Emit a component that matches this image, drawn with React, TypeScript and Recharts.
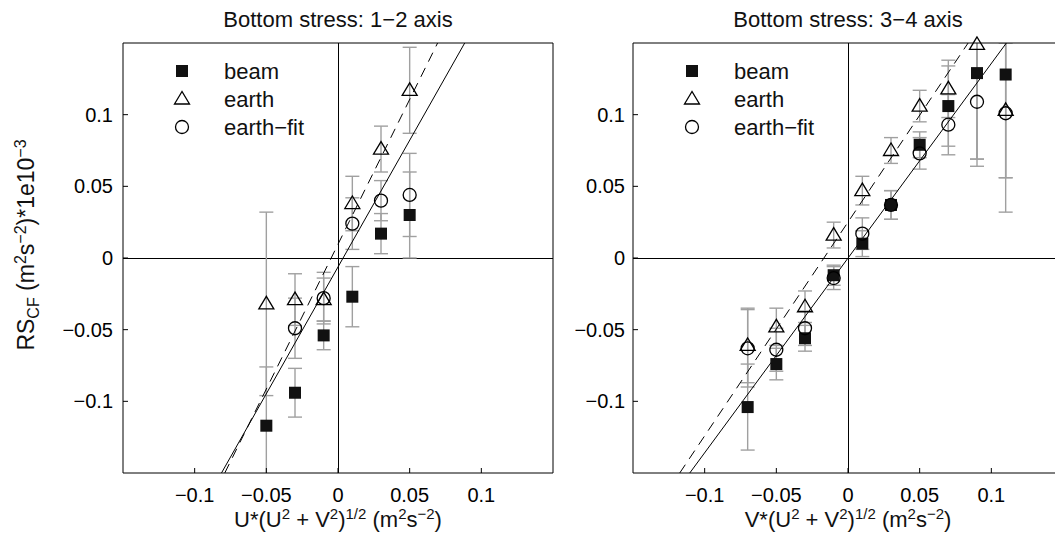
import React from "react"
import { ScatterChart, Scatter, XAxis, YAxis, ErrorBar, ReferenceLine } from "recharts"

const FONT = '"Liberation Sans", Arial, Helvetica, sans-serif'

// shared axes
const axisTicks = [-0.1, -0.05, 0, 0.05, 0.1]
const axisDomain: [number, number] = [-0.15, 0.15]

// panel 1: bottom stress 1-2 axis
const x12 = [-0.05, -0.03, -0.01, 0.01, 0.03, 0.05]
const beam12 = [-0.117, -0.094, -0.054, -0.027, 0.017, 0.03]
const beam12Err = [0.041, 0.017, 0.01, 0.021, 0.014, 0.03]
const earth12 = [-0.032, -0.029, -0.029, 0.038, 0.076, 0.117]
const earth12Err = [0.064, 0.018, 0.015, 0.019, 0.016, 0.03]
const fit12 = [null, -0.049, -0.028, 0.024, 0.04, 0.044]
const fit12Err = [null, 0.021, 0.018, 0.018, 0.014, 0.029]
const line12Solid = [{ x: -0.0813, y: -0.15 }, { x: 0.0884, y: 0.15 }]
const line12Dash = [{ x: -0.079, y: -0.15 }, { x: 0.0695, y: 0.15 }]

// panel 2: bottom stress 3-4 axis
const x34 = [-0.07, -0.05, -0.03, -0.01, 0.01, 0.03, 0.05, 0.07, 0.09, 0.11]
const beam34 = [-0.104, -0.074, -0.056, -0.012, 0.01, 0.037, 0.079, 0.106, 0.129, 0.128]
const beam34Err = [0.03, 0.011, 0.009, 0.007, 0.009, 0.01, 0.009, 0.028, 0.06, 0.072]
const earth34 = [-0.061, -0.048, -0.034, 0.016, 0.047, 0.075, 0.106, 0.118, 0.149, 0.103]
const earth34Err = [0.026, 0.013, 0.011, 0.009, 0.01, 0.009, 0.011, 0.02, 0.08, 0.047]
const fit34 = [-0.063, -0.064, -0.049, -0.014, 0.017, 0.037, 0.073, 0.093, 0.109, 0.101]
const fit34Err = [0.027, 0.015, 0.012, 0.008, 0.011, 0.01, 0.011, 0.021, 0.045, 0.069]
const line34Solid = [{ x: -0.1104, y: -0.15 }, { x: 0.1105, y: 0.15 }]
const line34Dash = [{ x: -0.1174, y: -0.15 }, { x: 0.0838, y: 0.15 }]

const legendNames = ["beam", "earth", "earth\u2212fit"]

type Pt = { x: number; y: number; err: number }
const toPoints = (xs: number[], ys: (number | null)[], es: (number | null)[]): Pt[] =>
  xs
    .map((x, i) => ({ x, y: ys[i] as number, err: es[i] as number }))
    .filter((p) => p.y != null)

const fmt = (v: number) => (v === 0 ? "0" : (v < 0 ? "\u2212" : "") + Math.abs(v))

const Square = (p: any) => <rect x={p.cx - 6} y={p.cy - 6} width={12} height={12} fill="#111" />
const Triangle = (p: any) => (
  <polygon
    points={`${p.cx},${p.cy - 7.5} ${p.cx - 7.5},${p.cy + 5} ${p.cx + 7.5},${p.cy + 5}`}
    fill="none"
    stroke="#000"
    strokeWidth={1.3}
  />
)
const Circle = (p: any) => <circle cx={p.cx} cy={p.cy} r={6.5} fill="none" stroke="#000" strokeWidth={1.3} />
const NoMark = () => <g />

interface PanelProps {
  left: number
  series: { pts: Pt[]; shape: any }[]
  solid: { x: number; y: number }[]
  dash: { x: number; y: number }[]
  yTickMargin: number
}

const Panel = ({ left, series, solid, dash, yTickMargin }: PanelProps) => (
  <div style={{ position: "absolute", left, top: 0 }}>
    <ScatterChart width={560} height={539} margin={{ top: 42, right: 6, bottom: 26, left: 0 }}>
      <XAxis
        xAxisId="b"
        type="number"
        dataKey="x"
        domain={axisDomain}
        ticks={axisTicks}
        tickFormatter={fmt}
        height={40}
        stroke="#000"
        tickSize={-5}
        tickMargin={20}
        tick={{ fill: "#000", fontSize: 20, fontFamily: FONT }}
      />
      <XAxis
        xAxisId="t"
        orientation="top"
        type="number"
        domain={axisDomain}
        allowDataOverflow
        ticks={axisTicks}
        height={1}
        stroke="#000"
        tickSize={-5}
        tick={false}
      />
      <YAxis
        yAxisId="m"
        type="number"
        dataKey="y"
        domain={axisDomain}
        ticks={axisTicks}
        tickFormatter={fmt}
        width={123}
        stroke="#000"
        tickSize={-5}
        tickMargin={yTickMargin}
        tick={{ fill: "#000", fontSize: 20, fontFamily: FONT }}
      />
      <YAxis yAxisId="c" type="number" dataKey="y" domain={axisDomain} allowDataOverflow hide width={0} />
      <YAxis
        yAxisId="r"
        orientation="right"
        type="number"
        domain={axisDomain}
        allowDataOverflow
        ticks={axisTicks}
        width={1}
        stroke="#000"
        tickSize={-5}
        tick={false}
      />

      <ReferenceLine xAxisId="b" yAxisId="m" x={0} stroke="#000" strokeWidth={1} shapeRendering="crispEdges" />
      <ReferenceLine xAxisId="b" yAxisId="m" y={0} stroke="#000" strokeWidth={1} shapeRendering="crispEdges" />

      {series.map((s, i) => (
        <Scatter key={"e" + i} xAxisId="b" yAxisId="c" data={s.pts} shape={NoMark} isAnimationActive={false}>
          <ErrorBar
            dataKey="err"
            direction="y"
            width={7}
            stroke="#a0a0a0"
            strokeWidth={1.4}
            clipPath="url(#plotClip)"
            isAnimationActive={false}
          />
        </Scatter>
      ))}

      <ReferenceLine xAxisId="b" yAxisId="c" segment={solid} ifOverflow="hidden" stroke="#000" strokeWidth={1} />
      <ReferenceLine xAxisId="b" yAxisId="c" segment={dash} ifOverflow="hidden" stroke="#000" strokeWidth={1} strokeDasharray="10 7" />

      {series.map((s, i) => (
        <Scatter key={"m" + i} xAxisId="b" yAxisId="m" data={s.pts} shape={s.shape} isAnimationActive={false} />
      ))}
    </ScatterChart>
  </div>
)

type Part = [string, "n" | "sup" | "sub"]
const Rich = ({ parts, size, small }: { parts: Part[]; size: number; small: number }) => {
  let shift = 0
  return (
    <>
      {parts.map(([t, k], i) => {
        const target = k === "sup" ? -8 : k === "sub" ? 5 : 0
        const dy = target - shift
        shift = target
        return (
          <tspan key={i} dy={dy} fontSize={k === "n" ? size : small}>
            {t}
          </tspan>
        )
      })}
    </>
  )
}

const xLabel = (v: string): Part[] => [
  [v + "*(U", "n"],
  ["2", "sup"],
  [" + V", "n"],
  ["2", "sup"],
  [")", "n"],
  ["1/2", "sup"],
  [" (m", "n"],
  ["2", "sup"],
  ["s", "n"],
  ["\u22122", "sup"],
  [")", "n"],
]
const yLabel: Part[] = [
  ["RS", "n"],
  ["CF", "sub"],
  [" (m", "n"],
  ["2", "sup"],
  ["s", "n"],
  ["\u22122", "sup"],
  [")*1e10", "n"],
  ["\u22123", "sup"],
]

const Legend = ({ mx, tx }: { mx: number; tx: number }) => {
  const rows = [71, 99, 127]
  const shapes = [Square, Triangle, Circle]
  return (
    <g>
      {legendNames.map((name, i) => {
        const Shape = shapes[i]
        return (
          <g key={name}>
            <Shape cx={mx} cy={rows[i]} />
            <text x={tx} y={rows[i] + 8} fontSize={22}>
              {name}
            </text>
          </g>
        )
      })}
    </g>
  )
}

export default function App() {
  const series12 = [
    { pts: toPoints(x12, beam12, beam12Err), shape: Square },
    { pts: toPoints(x12, earth12, earth12Err), shape: Triangle },
    { pts: toPoints(x12, fit12, fit12Err), shape: Circle },
  ]
  const series34 = [
    { pts: toPoints(x34, beam34, beam34Err), shape: Square },
    { pts: toPoints(x34, earth34, earth34Err), shape: Triangle },
    { pts: toPoints(x34, fit34, fit34Err), shape: Circle },
  ]
  return (
    <div style={{ position: "absolute", left: 0, top: 0, width: 1055, height: 539, overflow: "hidden", background: "#fff", fontFamily: FONT }}>
      <svg width={0} height={0} style={{ position: "absolute" }}>
        <defs>
          <clipPath id="plotClip" clipPathUnits="userSpaceOnUse">
            <rect x={123} y={43} width={430} height={430} />
          </clipPath>
        </defs>
      </svg>
      <Panel left={0} series={series12} solid={line12Solid} dash={line12Dash} yTickMargin={15} />
      <Panel left={510} series={series34} solid={line34Solid} dash={line34Dash} yTickMargin={13} />
      <svg width={1055} height={539} style={{ position: "absolute", left: 0, top: 0, pointerEvents: "none" }} fontFamily={FONT} fill="#111">
        <text x={338} y={27} fontSize={22} textAnchor="middle">
          Bottom stress: 1{"\u2212"}2 axis
        </text>
        <text x={848} y={27} fontSize={22} textAnchor="middle">
          Bottom stress: 3{"\u2212"}4 axis
        </text>
        <text x={338} y={527} textAnchor="middle">
          <Rich parts={xLabel("U")} size={22} small={15} />
        </text>
        <text x={848} y={527} textAnchor="middle">
          <Rich parts={xLabel("V")} size={22} small={15} />
        </text>
        <text x={0} y={0} textAnchor="middle" transform="translate(34,245) rotate(-90)">
          <Rich parts={yLabel} size={23} small={16} />
        </text>
        <Legend mx={182} tx={224} />
        <Legend mx={692} tx={734} />
      </svg>
    </div>
  )
}
